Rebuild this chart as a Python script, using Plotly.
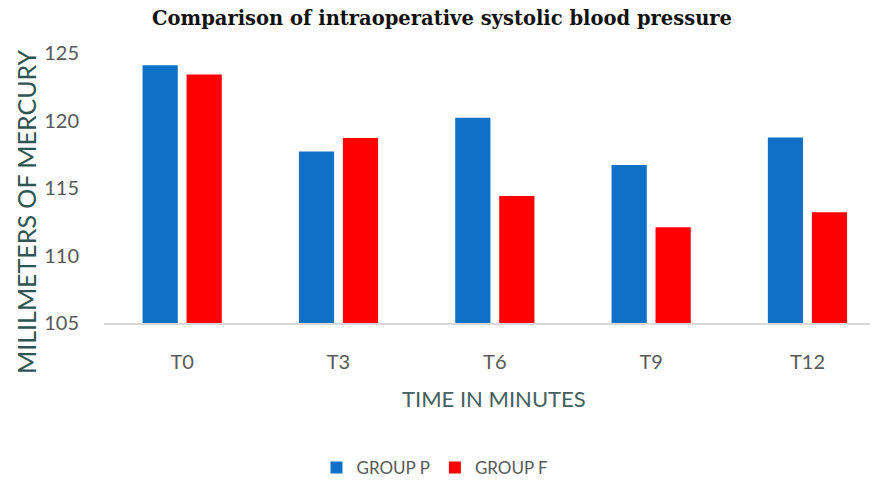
import plotly.graph_objects as go

categories = ["T0", "T3", "T6", "T9", "T12"]
group_p = [124.1, 117.7, 120.2, 116.7, 118.75]
group_f = [123.4, 118.7, 114.4, 112.1, 113.2]
series_names = ["GROUP P", "GROUP F"]
y_ticks = [105, 110, 115, 120, 125]

BLUE = "#0E70C6"
RED = "#FF0000"
GRAY = "#595959"
FONT = "Lato, Carlito, 'Open Sans', sans-serif"

OFF = 8  # page body margin
W, H = 880 - OFF, 487 - OFF
L, R, T, B = 104 - OFF, 10, 53 - OFF, 164
pw, ph = W - L - R, H - T - B

def px2paper_x(px):
    return (px - OFF - L) / pw

def px2paper_y(py):
    return (H - B - (py - OFF)) / ph

fig = go.Figure()
fig.add_trace(go.Bar(x=categories, y=[v - 105 for v in group_p], base=105,
                     name=series_names[0], marker=dict(color=BLUE, line=dict(width=0))))
fig.add_trace(go.Bar(x=categories, y=[v - 105 for v in group_f], base=105,
                     name=series_names[1], marker=dict(color=RED, line=dict(width=0))))

fig.update_layout(
    width=W, height=H,
    margin=dict(l=L, r=R, t=T, b=B, pad=0, autoexpand=False),
    plot_bgcolor="white", paper_bgcolor="white",
    barmode="group", bargap=0.437, bargroupgap=0.2,
    title=dict(text="<b>Comparison of intraoperative systolic blood pressure</b>",
               x=(442 - OFF) / W, xanchor="center", y=1 - (18 - OFF) / H, yanchor="middle",
               font=dict(family="'DejaVu Serif', serif", size=19.5, color="#111111")),
    xaxis=dict(range=[-0.5, 4.40], showgrid=False, showline=True, automargin=False,
               linecolor="#D9D9D9", linewidth=2, ticks="outside", ticklen=20,
               tickcolor="rgba(0,0,0,0)",
               tickfont=dict(family=FONT, size=20, color=GRAY)),
    yaxis=dict(range=[105, 125], tickvals=y_ticks, showgrid=False, zeroline=False,
               showline=False, automargin=False, ticks="outside", ticklen=20,
               tickcolor="rgba(0,0,0,0)",
               tickfont=dict(family=FONT, size=20, color=GRAY)),
    legend=dict(orientation="h", x=px2paper_x(435), xanchor="center",
                y=px2paper_y(468), yanchor="middle",
                font=dict(family=FONT, size=17, color=GRAY),
                itemwidth=30, traceorder="normal"),
    showlegend=True,
    annotations=[
        dict(text="TIME IN MINUTES", xref="paper", yref="paper",
             x=px2paper_x(494), y=px2paper_y(398), xanchor="center", yanchor="middle",
             showarrow=False, font=dict(family=FONT, size=22, color="#44605F")),
        dict(text="MILILMETERS OF MERCURY", xref="paper", yref="paper",
             x=px2paper_x(26), y=px2paper_y(212), xanchor="center", yanchor="middle",
             textangle=-90, showarrow=False, borderpad=0,
             font=dict(family=FONT, size=25, color="#2F5553")),
    ],
)

fig.write_html("out.html")
